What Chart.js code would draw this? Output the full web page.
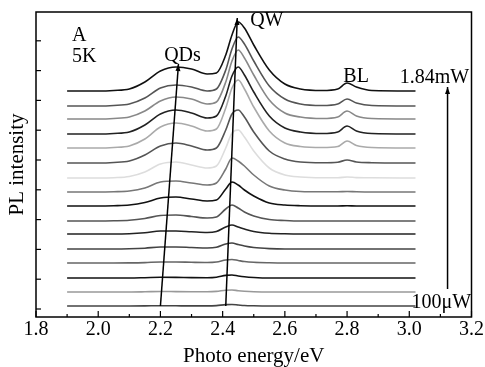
<!DOCTYPE html>
<html>
<head>
<meta charset="utf-8">
<script src="https://cdn.jsdelivr.net/npm/chart.js@4.4.0/dist/chart.umd.min.js"></script>
<style>
  html, body { margin: 0; padding: 0; background: #fff; }
  canvas { display: block; }
</style>
</head>
<body>
<canvas id="plChart" width="485" height="367"></canvas>
<script>
// photon energy grid (eV), shared by all spectra
const energies = [1.90, 2.00, 2.05, 2.10, 2.15, 2.20, 2.25, 2.30, 2.35, 2.38, 2.41, 2.43,
                  2.45, 2.47, 2.50, 2.55, 2.60, 2.65, 2.72, 2.77, 2.80, 2.83, 2.88, 3.02];

// PL spectra, lowest power (100 uW) first, highest (1.84 mW) last
const spec01 = [0, 0, 0, 0, 0.1, 0.3, 0.2, 0.1, 0.1, 0.4, 1.4, 1.5, 1, 0.5, 0.2, 0, 0, 0, 0, 0, 0, 0, 0, 0];
const spec02 = [0, 0, 0, 0, 0.2, 0.5, 0.4, 0.3, 0.2, 0.6, 1.8, 2, 1.3, 0.8, 0.3, 0, 0, 0, 0, 0, 0, 0, 0, 0];
const spec03 = [0, 0, 0, 0, 0.3, 0.7, 0.6, 0.4, 0.3, 0.8, 2.6, 3, 2, 1.2, 0.5, 0, 0, 0, 0, 0, 0, 0, 0, 0];
const spec04 = [0, 0, 0, 0.1, 0.4, 1, 1, 0.7, 0.5, 1, 3, 3.5, 2.5, 1.5, 0.7, 0.2, 0, 0, 0, 0, 0, 0, 0, 0];
const spec05 = [0, 0, 0, 0.2, 0.8, 2, 2, 1.5, 1, 1.7, 5, 6, 4.5, 3, 1.5, 0.4, 0, 0, 0, 0, 0, 0, 0, 0];
const spec06 = [0, 0, 0, 0.3, 1.3, 3, 3, 2.2, 1.5, 2.5, 7, 9, 7, 5, 2.5, 0.7, 0.2, 0, 0, 0, 0, 0, 0, 0];
const spec07 = [0, 0, 0.2, 0.7, 2.5, 5.5, 6, 4.5, 3, 4, 12, 16, 13, 9, 5, 1.5, 0.5, 0, 0, 0, 0, 0, 0, 0];
const spec08 = [0, 0, 0.3, 1, 3.5, 8, 9, 7, 5, 6, 17, 24, 21, 16, 10, 3, 1, 0.3, 0, 0, 0.2, 0, 0, 0];
const spec09 = [0, 0, 0.3, 1, 4, 10, 11, 9, 7, 9, 23, 34, 31, 26, 17, 6, 2, 0.5, 0.2, 0.2, 0.5, 0.2, 0, 0];
const spec10 = [0, 0, 0.3, 1.5, 6, 14, 16, 13, 10, 12, 30, 45, 48, 41, 27, 10, 3, 1, 0.3, 0.3, 1, 0.4, 0.2, 0];
const spec11 = [0, 0, 0.5, 2, 8, 17, 20, 17, 13, 15, 33, 49, 53, 46, 31, 12, 4, 1, 0.3, 0.8, 3, 1, 0.3, 0];
const spec12 = [0, 0, 0.5, 2, 9, 21, 25, 22, 17, 19, 40, 60, 68, 59, 41, 17, 5, 1.5, 0.5, 1.5, 7, 2.5, 0.5, 0];
const spec13 = [0, 0, 0.5, 2, 9, 20, 24, 21, 16, 18, 38, 58, 67, 59, 42, 18, 6, 2, 0.5, 2, 8, 3, 0.5, 0];
const spec14 = [0, 0, 0.5, 2, 8, 18, 22, 20, 15, 17, 37, 58, 69, 61, 44, 19, 6, 2, 0.5, 2, 8, 3, 0.5, 0];
const spec15 = [0, 0, 0.5, 2, 8, 18, 21, 19, 15, 17, 36, 57, 69, 62, 45, 20, 7, 2, 0.5, 2, 7, 3, 0.5, 0];
const spec16 = [0, 0, 0.5, 2, 9, 20, 24, 22, 17, 18, 36, 56, 69, 63, 46, 21, 7, 2, 0.5, 2, 8, 4, 0.5, 0];

const spectra = [spec01, spec02, spec03, spec04, spec05, spec06, spec07, spec08,
                 spec09, spec10, spec11, spec12, spec13, spec14, spec15, spec16];

// vertical shift of each spectrum (stacked plot)
const offsets = [3, 17, 31, 46, 60, 75, 88, 103, 117, 131, 146, 161, 175, 190, 203, 218];

const lineColors = ['#444', '#999', '#111', '#666', '#444', '#222', '#555', '#111',
                    '#777', '#ddd', '#555', '#aaa', '#222', '#888', '#555', '#111'];

// guide arrows: [x0, y0, x1, y1], head at the second point
const arrows = [
    [2.200, 3, 2.258, 245],   // QDs shift
    [2.410, 3, 2.447, 291],   // QW shift
    [3.123, 20, 3.123, 222]   // power increasing
];

const notes = [
    { text: 'A', x: 1.916, y: 273, align: 'left' },
    { text: '5K', x: 1.916, y: 252, align: 'left' },
    { text: 'QDs', x: 2.271, y: 253, align: 'center' },
    { text: 'QW', x: 2.542, y: 288, align: 'center' },
    { text: 'BL', x: 2.829, y: 232, align: 'center' },
    { text: '1.84mW', x: 3.081, y: 231, align: 'center' },
    { text: '100\u03bcW', x: 3.103, y: 6, align: 'center' }
];

const serif = "'Liberation Serif', 'Times New Roman', serif";

const datasets = spectra.map((spec, k) => ({
    data: energies.map((e, i) => ({ x: e, y: offsets[k] + spec[i] })),
    borderColor: lineColors[k],
    borderWidth: 1.6,
    pointRadius: 0,
    fill: false,
    cubicInterpolationMode: 'monotone'
}));

// frame, inward ticks, arrows and labels
const framePlugin = {
    id: 'frame',
    afterDatasetsDraw(chart) {
        const ctx = chart.ctx;
        const a = chart.chartArea;
        const xs = chart.scales.x;
        const ys = chart.scales.y;
        ctx.save();
        ctx.strokeStyle = '#000';
        ctx.fillStyle = '#000';

        // ticks on bottom axis (major 0.2, minor 0.1)
        ctx.lineWidth = 1.2;
        xs.ticks.forEach(t => {
            const px = xs.getPixelForValue(t.value);
            ctx.beginPath();
            ctx.moveTo(px, a.bottom);
            ctx.lineTo(px, a.bottom - 6);
            ctx.stroke();
            const mv = t.value + 0.1;
            if (mv < xs.max) {
                const mp = xs.getPixelForValue(mv);
                ctx.beginPath();
                ctx.moveTo(mp, a.bottom);
                ctx.lineTo(mp, a.bottom - 3);
                ctx.stroke();
            }
        });
        // ticks on left axis
        ys.ticks.forEach(t => {
            const py = ys.getPixelForValue(t.value);
            ctx.beginPath();
            ctx.moveTo(a.left, py);
            ctx.lineTo(a.left + 5, py);
            ctx.stroke();
        });

        // arrows
        ctx.lineWidth = 1.5;
        arrows.forEach(([x0, y0, x1, y1]) => {
            const p0x = xs.getPixelForValue(x0), p0y = ys.getPixelForValue(y0);
            const p1x = xs.getPixelForValue(x1), p1y = ys.getPixelForValue(y1);
            const ang = Math.atan2(p1y - p0y, p1x - p0x);
            ctx.beginPath();
            ctx.moveTo(p0x, p0y);
            ctx.lineTo(p1x, p1y);
            ctx.stroke();
            ctx.beginPath();
            ctx.moveTo(p1x, p1y);
            ctx.lineTo(p1x - 7 * Math.cos(ang) + 2.5 * Math.sin(ang), p1y - 7 * Math.sin(ang) - 2.5 * Math.cos(ang));
            ctx.lineTo(p1x - 7 * Math.cos(ang) - 2.5 * Math.sin(ang), p1y - 7 * Math.sin(ang) + 2.5 * Math.cos(ang));
            ctx.closePath();
            ctx.fill();
        });

        // text notes
        ctx.font = '20px ' + serif;
        ctx.textBaseline = 'middle';
        notes.forEach(n => {
            ctx.textAlign = n.align;
            ctx.fillText(n.text, xs.getPixelForValue(n.x), ys.getPixelForValue(n.y));
        });

        // plot frame
        ctx.lineWidth = 1.5;
        ctx.strokeRect(a.left, a.top, a.right - a.left, a.bottom - a.top);
        ctx.restore();
    }
};

new Chart(document.getElementById('plChart'), {
    type: 'line',
    data: { datasets: datasets },
    options: {
        responsive: false,
        animation: false,
        layout: { padding: { top: 12, right: 13, left: 0, bottom: 0 } },
        plugins: {
            legend: { display: false },
            tooltip: { enabled: false }
        },
        scales: {
            x: {
                type: 'linear',
                min: 1.8,
                max: 3.2,
                grid: { display: false, drawTicks: false },
                border: { display: false },
                ticks: {
                    stepSize: 0.2,
                    padding: 1,
                    color: '#000',
                    font: { family: serif, size: 20 },
                    callback: v => v.toFixed(1)
                },
                title: {
                    display: true,
                    text: 'Photo energy/eV',
                    color: '#000',
                    font: { family: serif, size: 21, lineHeight: 1 },
                    padding: { top: 0, bottom: 0 }
                },
                afterFit: s => { s.height = 50; }
            },
            y: {
                type: 'linear',
                min: -8,
                max: 297,
                grid: { display: false, drawTicks: false },
                border: { display: false },
                ticks: { display: false, stepSize: 29.8, includeBounds: false },
                title: {
                    display: true,
                    text: 'PL intensity',
                    color: '#000',
                    font: { family: serif, size: 21, lineHeight: 1 },
                    padding: { top: 7, bottom: 0 }
                },
                afterFit: s => { s.width = 36; }
            }
        }
    },
    plugins: [framePlugin]
});
</script>
</body>
</html>
